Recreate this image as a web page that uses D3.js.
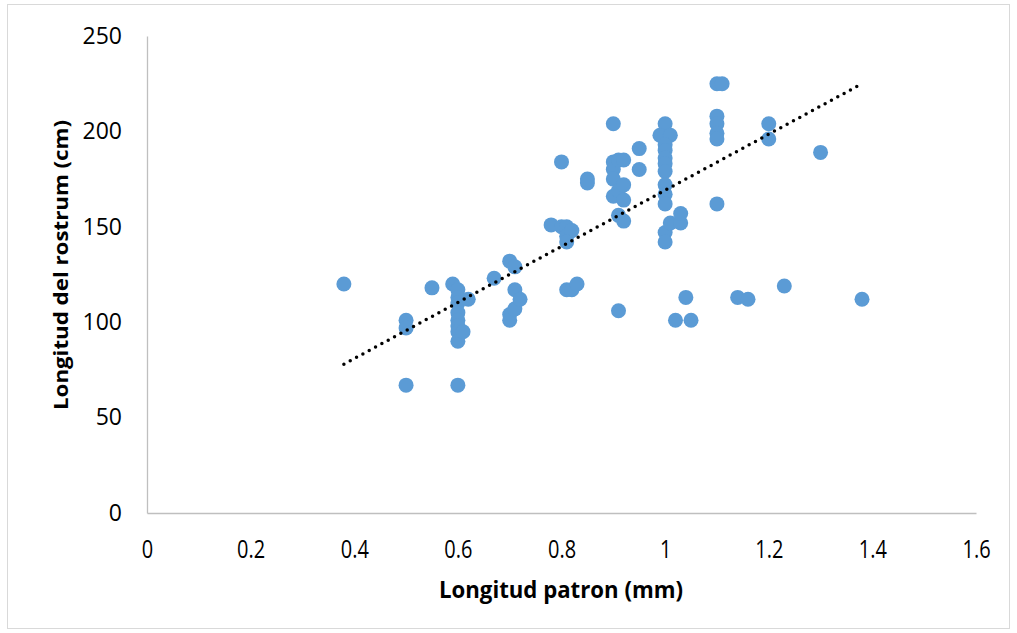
<!DOCTYPE html>
<html>
<head>
<meta charset="utf-8">
<script src="https://cdn.jsdelivr.net/npm/d3@7"></script>
<style>
  html, body { margin: 0; padding: 0; background: #fff; }
  svg { display: block; }
</style>
</head>
<body>
<svg id="chart" width="1017" height="633"></svg>
<script>
// Longitud patron (mm)
const xValues = [
  0.38, 0.5, 0.5, 0.5, 0.55, 0.59, 0.6, 0.6, 0.6, 0.6, 0.6, 0.6, 0.6, 0.6, 0.61, 0.62, 0.6,
  0.67, 0.7, 0.71, 0.7, 0.7, 0.71, 0.71, 0.72,
  0.78, 0.8, 0.8, 0.81, 0.81, 0.82, 0.81, 0.81, 0.82, 0.83,
  0.85, 0.85,
  0.9, 0.9, 0.9, 0.9, 0.9, 0.91, 0.91, 0.92, 0.92, 0.92, 0.91, 0.92, 0.91,
  0.95, 0.95,
  1.0, 0.99, 1.01, 1.0, 1.0, 1.0, 1.0, 1.0, 1.0, 1.0, 1.0, 1.0, 1.0, 1.01,
  1.02, 1.05, 1.04, 1.03, 1.03,
  1.1, 1.11, 1.1, 1.1, 1.1, 1.1, 1.1,
  1.2, 1.2, 1.14, 1.16, 1.23, 1.3, 1.38
];
// Longitud del rostrum (cm)
const yValues = [
  120, 101, 97, 67, 118, 120, 117, 113, 110, 105, 101, 98, 95, 90, 95, 112, 67,
  123, 132, 129, 104, 101, 107, 117, 112,
  151, 184, 150, 150, 145, 148, 142, 117, 117, 120,
  175, 173,
  204, 184, 180, 175, 166, 185, 169, 185, 172, 164, 156, 153, 106,
  191, 180,
  204, 198, 198, 193, 190, 186, 183, 179, 172, 167, 162, 147, 142, 152,
  101, 101, 113, 152, 157,
  225, 225, 208, 204, 199, 196, 162,
  204, 196, 113, 112, 119, 189, 112
];
// linear trendline endpoints
const trendX = [0.38, 1.38];
const trendY = [78, 225];
const xTicks = [0, 0.2, 0.4, 0.6, 0.8, 1, 1.2, 1.4, 1.6];
const yTicks = [0, 50, 100, 150, 200, 250];
const xTitle = "Longitud patron (mm)";
const yTitle = "Longitud del rostrum (cm)";

const svg = d3.select("#chart");

// chart border
svg.append("rect")
  .attr("x", 7.5).attr("y", 4.5)
  .attr("width", 1002).attr("height", 624)
  .attr("fill", "#fff").attr("stroke", "#d9d9d9").attr("stroke-width", 1);

const x = d3.scaleLinear().domain([0, 1.6]).range([147, 976]);
const y = d3.scaleLinear().domain([0, 250]).range([513, 36]);

// x axis
const xAxis = d3.axisBottom(x).tickValues(xTicks).tickSize(0).tickPadding(27)
  .tickFormat(d => d3.format("")(d));
const gx = svg.append("g").attr("transform", `translate(0,${y(0)})`).call(xAxis);
gx.select(".domain").attr("stroke", "#bfbfbf").attr("stroke-width", 1.3);
gx.selectAll("text")
  .attr("font-family", "'Open Sans', sans-serif")
  .attr("font-size", 25).attr("fill", "#000")
  .attr("transform", "scale(0.8,1)");

// y axis
const yAxis = d3.axisLeft(y).tickValues(yTicks).tickSize(0).tickPadding(25);
const gy = svg.append("g").attr("transform", `translate(${x(0)},0)`).call(yAxis);
gy.select(".domain").attr("stroke", "#bfbfbf").attr("stroke-width", 1.3);
gy.selectAll("text")
  .attr("font-family", "'Open Sans', sans-serif")
  .attr("font-size", 23).attr("fill", "#000");

// titles
svg.append("text")
  .attr("x", 561).attr("y", 598)
  .attr("text-anchor", "middle")
  .attr("font-family", "'Open Sans', sans-serif")
  .attr("font-weight", "bold").attr("font-size", 23)
  .attr("textLength", 244).attr("lengthAdjust", "spacingAndGlyphs")
  .text(xTitle);

svg.append("text")
  .attr("transform", "translate(68,265) rotate(-90)")
  .attr("text-anchor", "middle")
  .attr("font-family", "'Open Sans', sans-serif")
  .attr("font-weight", "bold").attr("font-size", 20)
  .attr("textLength", 290).attr("lengthAdjust", "spacingAndGlyphs")
  .text(yTitle);

// points
const data = xValues.map((v, i) => ({ x: v, y: yValues[i] }));
svg.append("g").selectAll("circle")
  .data(data).join("circle")
  .attr("cx", d => x(d.x)).attr("cy", d => y(d.y))
  .attr("r", 7.5).attr("fill", "#5b9bd5");

// trendline (dotted)
svg.append("line")
  .attr("x1", x(trendX[0])).attr("y1", y(trendY[0]))
  .attr("x2", x(trendX[1])).attr("y2", y(trendY[1]))
  .attr("stroke", "#000").attr("stroke-width", 3.5)
  .attr("stroke-linecap", "round").attr("stroke-dasharray", "0 7.2");
</script>
</body>
</html>
